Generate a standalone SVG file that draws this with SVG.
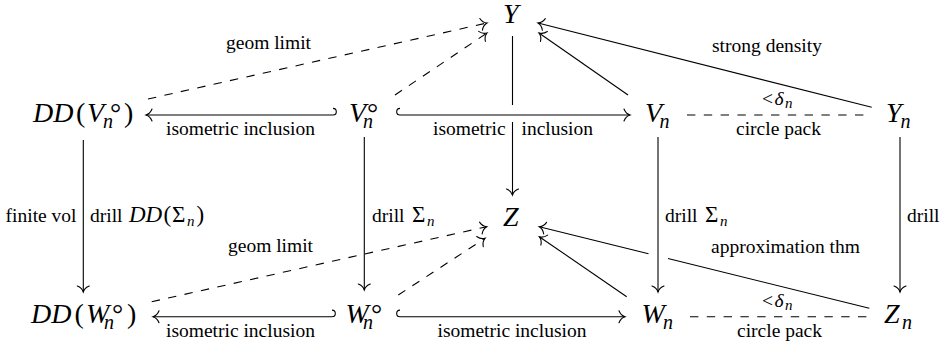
<svg xmlns="http://www.w3.org/2000/svg" width="945" height="346" viewBox="0 0 945 346">
<style>
.ln { stroke:#000; stroke-width:1.1; fill:none; }
.ds { stroke-dasharray:8.4 8.4; }
.m { font-family:"Liberation Serif","Times New Roman",serif; font-style:italic; font-size:28px; fill:#000; }
.r { font-style:normal; }
.sb { font-size:20px; }
.lb { font-family:"Liberation Serif","Times New Roman",serif; font-size:19.5px; fill:#000; }
.li { font-style:italic; }
.lm { font-size:23px; }
.ls { font-size:15px; font-style:italic; }
</style>
<defs>
<marker id="ah" markerUnits="userSpaceOnUse" viewBox="-8 -8 10 16" refX="0" refY="0" markerWidth="10" markerHeight="16" orient="auto" overflow="visible">
<path d="M -6,-6 C -4.6,-2.4 -1.6,-0.5 0,0 C -1.6,0.5 -4.6,2.4 -6,6" fill="none" stroke="#000" stroke-width="1.1" stroke-linecap="round" stroke-dasharray="none"/>
</marker>
</defs>
<rect width="945" height="346" fill="#fff"/>
<g id="connectors">
<path class="ln ds" d="M148,99 L487,23" marker-end="url(#ah)"/>
<path class="ln ds" d="M395,95 L487,33" marker-end="url(#ah)"/>
<path class="ln" d="M628,95 L539,33" marker-end="url(#ah)"/>
<path class="ln" d="M871.7,107.3 L538,23" marker-end="url(#ah)"/>
<path class="ln" d="M333,108.4 A3.3,3.3 0 0 1 333,115 L146,115" marker-end="url(#ah)"/>
<path class="ln" d="M400,108.4 A3.3,3.3 0 0 0 400,115 L630,115" marker-end="url(#ah)"/>
<path class="ln ds" d="M687,115 L867,115"/>
<path class="ln" d="M512.5,36 L512.5,105"/>
<path class="ln" d="M512.5,122 L512.5,195" marker-end="url(#ah)"/>
<path class="ln" d="M83.3,140 L83.3,292" marker-end="url(#ah)"/>
<path class="ln" d="M364.3,137 L364.3,290" marker-end="url(#ah)"/>
<path class="ln" d="M658,137 L658,292" marker-end="url(#ah)"/>
<path class="ln" d="M900,137 L900,292" marker-end="url(#ah)"/>
<path class="ln ds" d="M151.7,301.7 L486.7,226.7" marker-end="url(#ah)"/>
<path class="ln ds" d="M398.3,295 L485,238.3" marker-end="url(#ah)"/>
<path class="ln" d="M626.7,296.7 L539.3,236.7" marker-end="url(#ah)"/>
<path class="ln" d="M869.3,308.3 L668,258.5"/>
<path class="ln" d="M648.5,253.7 L539.3,226.7" marker-end="url(#ah)"/>
<path class="ln" d="M332,310.1 A3.3,3.3 0 0 1 332,316.7 L153,316.7" marker-end="url(#ah)"/>
<path class="ln" d="M400,310.1 A3.3,3.3 0 0 0 400,316.7 L625,316.7" marker-end="url(#ah)"/>
<path class="ln ds" d="M690,316.7 L870,316.7"/>
</g>
<g id="labels">
<text class="lb" x="226" y="49">geom limit</text>
<text class="lb" x="166" y="135">isometric inclusion</text>
<text class="lb" y="135"><tspan x="433">isometric</tspan><tspan x="521.5">inclusion</tspan></text>
<text class="lb" x="712" y="52">strong density</text>
<text class="lb" y="105"><tspan x="762">&lt;</tspan><tspan class="li" x="774.5">δ</tspan><tspan class="ls" x="785" y="108">n</tspan></text>
<text class="lb" x="736" y="135">circle pack</text>
<text class="lb" x="76.5" y="222" text-anchor="end">finite vol</text>
<text class="lb" y="222"><tspan x="90">drill</tspan><tspan class="li lm" x="129">DD</tspan><tspan class="lm" x="163.5">(</tspan><tspan class="lm" x="172">Σ</tspan><tspan class="ls" x="187" y="226">n</tspan><tspan class="lm" x="196.5" y="222">)</tspan></text>
<text class="lb" y="222"><tspan x="372">drill</tspan><tspan class="lm" x="412">Σ</tspan><tspan class="ls" x="427" y="226">n</tspan></text>
<text class="lb" y="222"><tspan x="665">drill</tspan><tspan class="lm" x="705">Σ</tspan><tspan class="ls" x="720" y="226">n</tspan></text>
<text class="lb" x="907" y="222">drill</text>
<text class="lb" x="228" y="252">geom limit</text>
<text class="lb" x="711" y="253">approximation thm</text>
<text class="lb" x="166" y="337">isometric inclusion</text>
<text class="lb" x="437.5" y="337">isometric inclusion</text>
<text class="lb" y="306.7"><tspan x="762">&lt;</tspan><tspan class="li" x="774.5">δ</tspan><tspan class="ls" x="785" y="309.7">n</tspan></text>
<text class="lb" x="737" y="337">circle pack</text>
</g>
<g id="node-Y"><text class="m" x="503" y="23">Y</text></g>
<g id="node-DDV"><text class="m" y="122"><tspan x="33">DD</tspan><tspan class="r" x="76">(</tspan><tspan x="87">V</tspan><tspan class="sb" x="103" y="128">n</tspan><tspan class="r" x="110" y="122">°</tspan><tspan class="r" x="124">)</tspan></text></g>
<g id="node-Vo"><text class="m" y="122"><tspan x="349">V</tspan><tspan class="sb" x="363" y="128">n</tspan><tspan class="r" x="367" y="122">°</tspan></text></g>
<g id="node-Vn"><text class="m" y="122"><tspan x="645">V</tspan><tspan class="sb" x="659.5" y="128">n</tspan></text></g>
<g id="node-Yn"><text class="m" y="122"><tspan x="886">Y</tspan><tspan class="sb" x="900.5" y="128">n</tspan></text></g>
<g id="node-Z"><text class="m" x="503" y="226">Z</text></g>
<g id="node-DDW"><text class="m" y="323"><tspan x="31">DD</tspan><tspan class="r" x="74.5">(</tspan><tspan x="86">W</tspan><tspan class="sb" x="104" y="329">n</tspan><tspan class="r" x="112" y="323">°</tspan><tspan class="r" x="127">)</tspan></text></g>
<g id="node-Wo"><text class="m" y="323"><tspan x="345.5">W</tspan><tspan class="sb" x="363" y="329">n</tspan><tspan class="r" x="371" y="323">°</tspan></text></g>
<g id="node-Wn"><text class="m" y="323"><tspan x="641.5">W</tspan><tspan class="sb" x="663" y="329">n</tspan></text></g>
<g id="node-Zn"><text class="m" y="323"><tspan x="884">Z</tspan><tspan class="sb" x="902" y="329">n</tspan></text></g>
</svg>
